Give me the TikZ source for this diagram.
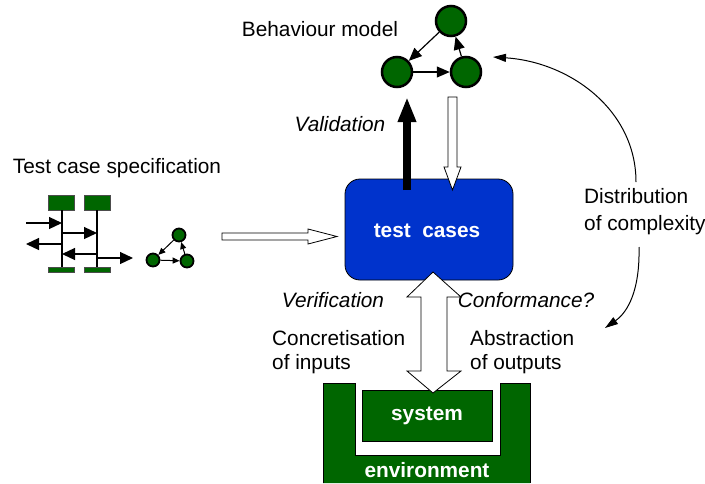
\documentclass[tikz,border=0pt]{standalone}
\usepackage{fontspec}
\setmainfont{Liberation Sans}
\usetikzlibrary{arrows.meta}
\definecolor{dgreen}{RGB}{0,102,0}
\definecolor{tblue}{RGB}{0,51,204}
\begin{document}
\begin{tikzpicture}[x=1pt,y=-1pt,
  txt/.style={font=\fontsize{20.8}{24}\selectfont, inner sep=0pt},
  itxt/.style={font=\fontsize{20.8}{24}\selectfont\itshape, inner sep=0pt},
  btxt/.style={font=\fontsize{20.8}{24}\selectfont\bfseries, text=white, inner sep=0pt},
  bigstate/.style={circle, draw=black, line width=2.5pt, fill=dgreen, minimum size=30pt, inner sep=0pt},
  smallstate/.style={circle, draw=black, line width=1.8pt, fill=dgreen, minimum size=13pt, inner sep=0pt},
  garrow/.style={line width=1.2pt, -{Triangle[length=13pt,width=11pt]}},
  sgarrow/.style={line width=1pt, -{Triangle[length=7pt,width=6pt]}},
  msg/.style={line width=1.2pt, -{Triangle[length=13pt,width=12pt]}},
  thinarrow/.style={line width=1pt, -{Triangle[length=13pt,width=8pt]}},
  hollow/.style={draw=black, fill=white, line width=0.8pt},
  gbox/.style={fill=dgreen, draw=black!70, line width=0.6pt},
]
\useasboundingbox (0,0) rectangle (705,483);

% Behaviour model
\node[txt] (bmlabel) at (320,29) {Behaviour model};
\node[bigstate] (b1) at (451,21) {};
\node[bigstate] (b2) at (397,72) {};
\node[bigstate] (b3) at (466,72) {};
\draw[garrow] (b1) -- (b2);
\draw[garrow] (b2) -- (b3);
\draw[garrow] (b3) -- (b1);

% Test cases box
\node[draw=black, line width=0.8pt, fill=tblue, rounded corners=15pt,
      minimum width=168pt, minimum height=101pt, inner sep=0pt] (tc) at (429,229.5) {};
\node[btxt] (tclabel) at (427,231) {test\ \ cases};

% Validation arrow (black, thick)
\coordinate (vstart) at (407,190);
\coordinate (vend) at (407,97);
\draw[line width=8pt, -{Triangle[length=25pt,width=17pt]}] (vstart) -- (vend);
\node[itxt] (val) at (340,124) {Validation};

% hollow arrow down from model to test cases
\draw[hollow] (448,97) -- (457,97) -- (457,167) -- (461,167) -- (452.5,190) -- (444,167) -- (448,167) -- cycle;

% Test case specification
\node[txt] (tcs) at (117,168) {Test case specification};
\fill[gbox] (48,195) rectangle (74,210);
\fill[gbox] (84,195) rectangle (110,210);
\coordinate (l1t) at (62,210); \coordinate (l1b) at (62,267);
\coordinate (l2t) at (97,210); \coordinate (l2b) at (97,267);
\draw[line width=1.2pt] (l1t) -- (l1b);
\draw[line width=1.2pt] (l2t) -- (l2b);
\fill[gbox] (48,267) rectangle (74,272);
\fill[gbox] (84,267) rectangle (110,272);
\draw[msg] (26,223) -- (62,223);
\draw[msg] (62,233) -- (97,233);
\draw[msg] (62,244) -- (26,244);
\draw[msg] (97,254) -- (62,254);
\draw[msg] (97,258) -- (133,258);

% small graph
\node[smallstate] (s1) at (179,235) {};
\node[smallstate] (s2) at (153,260) {};
\node[smallstate] (s3) at (187,261) {};
\draw[sgarrow] (s1) -- (s2);
\draw[sgarrow] (s2) -- (s3);
\draw[sgarrow] (s3) -- (s1);

% hollow horizontal arrow
\draw[hollow] (222,233) -- (308,233) -- (308,229) -- (337,236.5) -- (308,244) -- (308,240) -- (222,240) -- cycle;

% Environment and system
\path[fill=dgreen] (323,483) -- (323,383) -- (355,383) -- (355,455) -- (500,455) -- (500,383) -- (530,383) -- (530,483) -- cycle;
\draw[black, line width=0.8pt] (323,483) -- (323,383) -- (355,383) -- (355,455) -- (500,455) -- (500,383) -- (530,383) -- (530,483);
\node[btxt] (env) at (427,470) {environment};
\node[draw=black, line width=0.8pt, fill=dgreen, minimum width=130pt, minimum height=51pt, inner sep=0pt] (sys) at (427,415.5) {};
\node[btxt] (syslabel) at (427,416) {system};

% double arrow
\draw[hollow] (433,272) -- (461,297) -- (447,297) -- (447,371) -- (461,371) -- (433,393) -- (407,371) -- (421,371) -- (421,297) -- (407,297) -- cycle;

% labels
\node[itxt] (ver) at (333,300) {Verification};
\node[itxt] (conf) at (526,300) {Conformance?};
\node[txt, anchor=west, align=left] (conc) at (272,352) {Concretisation\\of inputs};
\node[txt, anchor=west, align=left] (abs) at (470,352) {Abstraction\\of outputs};
\node[txt, anchor=west, align=left, font=\fontsize{20.8}{27}\selectfont] (dist) at (584,212) {Distribution\\of complexity};

% curved arrows
\coordinate (c1s) at (636,182);
\coordinate (c1e) at (493,57);
\coordinate (c2s) at (639,247);
\coordinate (c2e) at (605,328);
\draw[thinarrow] (c1s) .. controls (636,110) and (570,62) .. (c1e);
\draw[thinarrow] (c2s) .. controls (640,290) and (628,312) .. (c2e);
\end{tikzpicture}
\end{document}
